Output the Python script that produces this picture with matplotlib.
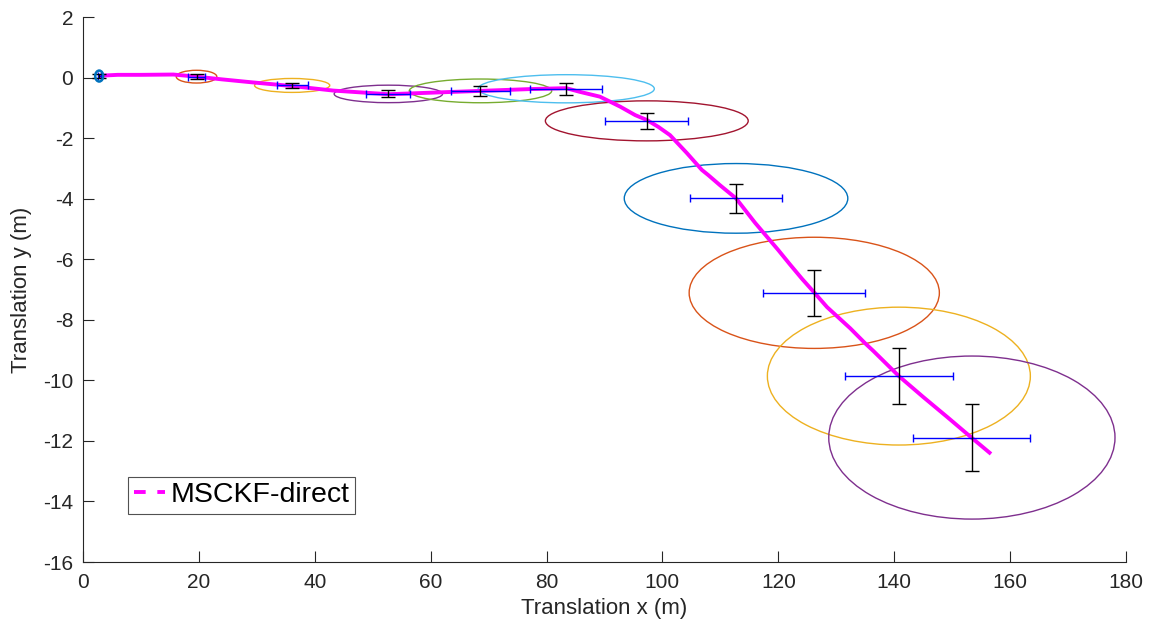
import numpy as np
import matplotlib
matplotlib.use("Agg")
import matplotlib.pyplot as plt
from matplotlib.patches import Ellipse
from matplotlib.lines import Line2D

plt.rcParams['font.family'] = ['Liberation Sans', 'DejaVu Sans']
plt.rcParams['axes.unicode_minus'] = False

# estimated trajectory (MSCKF-direct)
traj_x = [2.9, 6.0, 10.0, 15.6, 19.6, 24.0, 29.3, 36.1, 43.2, 52.7, 60.0, 68.6,
          77.2, 83.4, 85.7, 89.2, 92.7, 95.3, 97.3, 99.3, 101.3, 104.2, 106.8,
          107.9, 109.9, 112.7, 116.0, 120.0, 122.0, 124.1, 126.2, 128.4, 132.4,
          135.0, 136.4, 140.8, 145.0, 149.2, 153.2, 156.7]
traj_y = [0.06, 0.09, 0.09, 0.1, 0.03, -0.06, -0.16, -0.28, -0.43, -0.55, -0.5, -0.44,
          -0.38, -0.35, -0.47, -0.63, -0.96, -1.24, -1.40, -1.63, -1.90, -2.49, -3.05,
          -3.22, -3.55, -3.99, -4.80, -5.70, -6.17, -6.65, -7.10, -7.58, -8.28,
          -8.78, -9.03, -9.86, -10.55, -11.22, -11.87, -12.43]

# covariance checkpoints: centre and 1-sigma in x / y
cen_x = [2.8, 19.6, 36.1, 52.7, 68.6, 83.4, 97.3, 112.7, 126.2, 140.8, 153.4]
cen_y = [0.05, 0.03, -0.26, -0.54, -0.44, -0.37, -1.43, -3.99, -7.11, -9.86, -11.89]
sig_x = [0.28, 1.43, 2.65, 3.82, 5.02, 6.21, 7.15, 7.88, 8.82, 9.27, 10.09]
sig_y = [0.074, 0.086, 0.094, 0.118, 0.16, 0.19, 0.27, 0.47, 0.75, 0.93, 1.10]

ell_colors = ['#0072BD', '#D95319', '#EDB120', '#7E2F8E', '#77AC30', '#4DBEEE',
              '#A2142F', '#0072BD', '#D95319', '#EDB120', '#7E2F8E']
k95 = 2.4477  # 95% confidence ellipse for 2 dof

fig = plt.figure(figsize=(11.49, 6.23), dpi=100)
ax = fig.add_axes([0.0722, 0.0979, 0.9078, 0.8748])

ax.plot(traj_x, traj_y, color='magenta', lw=2.8, zorder=3, solid_capstyle='butt')

for i in range(len(cen_x)):
    lw = 1.8 if i == 0 else 1.0
    e = Ellipse((cen_x[i], cen_y[i]), 2 * k95 * sig_x[i], 2 * k95 * sig_y[i],
                fill=False, edgecolor=ell_colors[i], lw=lw, zorder=5 if i == 0 else 2)
    ax.add_patch(e)

ax.errorbar(cen_x, cen_y, xerr=sig_x, fmt='none', ecolor='blue', elinewidth=1.0,
            capsize=3, capthick=1.0, zorder=4)
ax.errorbar(cen_x, cen_y, yerr=sig_y, fmt='none', ecolor='black', elinewidth=1.0,
            capsize=5, capthick=1.0, zorder=4)

ax.set_xlim(0, 180)
ax.set_ylim(-16, 2)
ax.set_xticks(np.arange(0, 181, 20))
ax.set_yticks(np.arange(-16, 3, 2))
for s in ['top', 'right']:
    ax.spines[s].set_visible(False)
for s in ['left', 'bottom']:
    ax.spines[s].set_color('#262626')
    ax.spines[s].set_linewidth(0.8)
ax.tick_params(direction='in', length=8, width=0.8, color='#262626',
               labelsize=15, labelcolor='#262626')
ax.tick_params(axis='x', pad=8)
ax.tick_params(axis='y', pad=7)
ax.set_xlabel('Translation x (m)', fontsize=16, color='#262626', labelpad=4)
ax.set_ylabel('Translation y (m)', fontsize=16, color='#262626', labelpad=8)

handle = Line2D([], [], color='magenta', lw=2.8, linestyle=(0, (3, 3)))
leg = ax.legend([handle], ['MSCKF-direct'], loc='lower left',
                bbox_to_anchor=(0.043, 0.088), fontsize=20.5, frameon=True,
                fancybox=False, handlelength=1.1, handletextpad=0.2,
                borderpad=0.2, borderaxespad=0)
leg.get_frame().set_edgecolor('#262626')
leg.get_frame().set_linewidth(0.8)

fig.savefig('out.png', dpi=100)
